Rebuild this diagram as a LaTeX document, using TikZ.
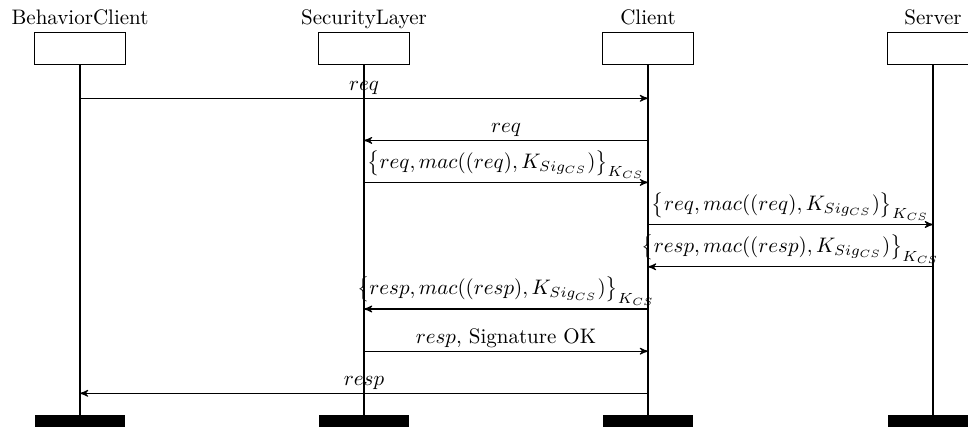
\documentclass[tikz,border=0pt]{standalone}
\usepackage{amsmath,amssymb}
\usetikzlibrary{positioning,arrows}

\begin{document}
\begin{tikzpicture}[x=0.4762pt, y=-0.4762pt, every node/.style={font=\normalsize},
    line width=0.5pt,
    inst/.style={draw, minimum width=42.9pt, minimum height=14.8pt, inner sep=0pt},
    instname/.style={text depth=0pt, inner sep=3.33pt},
    endbar/.style={fill=black, minimum width=43.3pt, minimum height=5.7pt, inner sep=0pt},
    msg/.style={->, >=stealth'},
    msglabel/.style={midway, above, inner sep=1.5pt}]
      \useasboundingbox (0,0) rectangle (968,427);
      \clip (0,0) rectangle (968,427);
      % instances
      \node[inst] (bc) at (80,48.5) {};
      \node[inst] (sl) at (364,48.5) {};
      \node[inst] (cl) at (648,48.5) {};
      \node[inst] (sv) at (933,48.5) {};
      \node[instname, above=0pt of bc] (bc-name) {BehaviorClient};
      \node[instname, above=0pt of sl] (sl-name) {SecurityLayer};
      \node[instname, above=0pt of cl] (cl-name) {Client};
      \node[instname, above=0pt of sv] (sv-name) {Server};
      % end bars
      \node[endbar] (bc-end) at (80,421) {};
      \node[endbar] (sl-end) at (364,421) {};
      \node[endbar] (cl-end) at (648,421) {};
      \node[endbar] (sv-end) at (933,421) {};
      % lifelines
      \draw (bc) -- (bc-end);
      \draw (sl) -- (sl-end);
      \draw (cl) -- (cl-end);
      \draw (sv) -- (sv-end);
      % message rows
      \coordinate (m1) at (0,98.3);
      \coordinate (m2) at (0,140.4);
      \coordinate (m3) at (0,182.4);
      \coordinate (m4) at (0,224.5);
      \coordinate (m5) at (0,266.8);
      \coordinate (m6) at (0,309);
      \coordinate (m7) at (0,351.2);
      \coordinate (m8) at (0,393.3);
      % request
      \draw[msg] (bc |- m1) -- (cl |- m1) node[msglabel] {$req$};
      \draw[msg] (cl |- m2) -- (sl |- m2) node[msglabel] {$req$};
      \draw[msg] (sl |- m3) -- (cl |- m3)
        node[msglabel] {$\big\{req, mac((req), K_{Sig_{CS}})\big\}_{K_{CS}}$};
      \draw[msg] (cl |- m4) -- (sv |- m4)
        node[msglabel] {$\big\{req, mac((req), K_{Sig_{CS}})\big\}_{K_{CS}}$};
      % response
      \draw[msg] (sv |- m5) -- (cl |- m5)
        node[msglabel] {$\big\{resp, mac((resp), K_{Sig_{CS}})\big\}_{K_{CS}}$};
      \draw[msg] (cl |- m6) -- (sl |- m6)
        node[msglabel] {$\big\{resp, mac((resp), K_{Sig_{CS}})\big\}_{K_{CS}}$};
      \draw[msg] (sl |- m7) -- (cl |- m7) node[msglabel] {$resp$, Signature OK};
      \draw[msg] (cl |- m8) -- (bc |- m8) node[msglabel] {$resp$};
    \end{tikzpicture}
\end{document}
